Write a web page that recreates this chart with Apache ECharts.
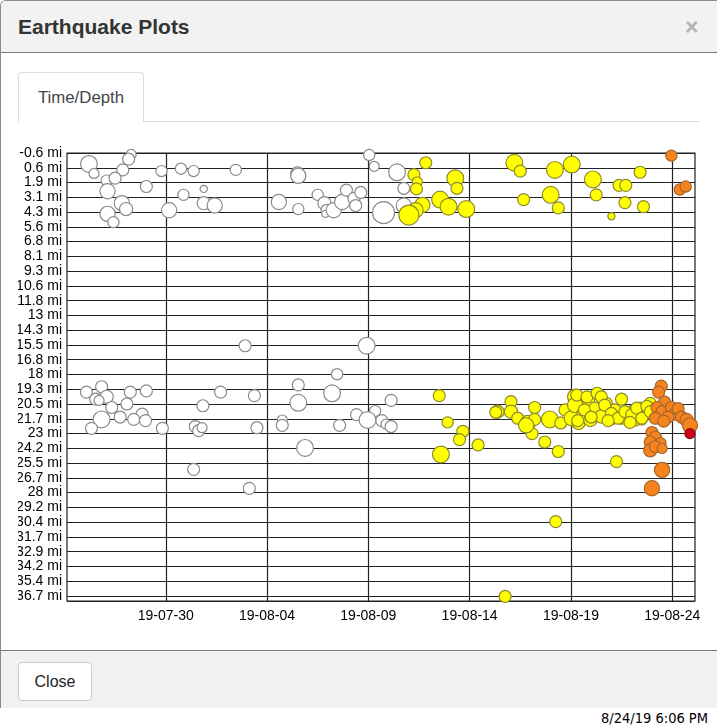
<!DOCTYPE html>
<html><head><meta charset="utf-8">
<script src="https://cdn.jsdelivr.net/npm/echarts@6/dist/echarts.min.js"></script>
<style>
html,body{margin:0;padding:0;background:#fff;width:717px;height:728px;overflow:hidden;font-family:"Liberation Sans",Arial,sans-serif;}
.modal{position:absolute;left:0;top:0;width:716px;height:707px;border:1px solid #8a8a8a;border-right:none;border-bottom:none;border-radius:6px 0 0 0;overflow:hidden;background:#fff;}
.hdr{position:absolute;left:0;top:0;right:0;height:51px;background:#f2f2f2;border-bottom:1px solid #777;}
.title{position:absolute;left:17px;top:14px;font-size:21px;font-weight:bold;color:#333;}
.closex{position:absolute;left:684px;top:13px;font-size:23px;font-weight:bold;color:#b3b3b3;}
.tab{position:absolute;left:17px;top:71px;width:124px;height:49px;border:1px solid #ddd;border-bottom:none;border-radius:4px 4px 0 0;background:#fff;text-align:center;line-height:50px;font-size:16.8px;color:#444;}
.tabline{position:absolute;left:17px;top:120px;width:682px;height:1px;background:#ddd;}
.tabcover{position:absolute;left:18px;top:120px;width:123px;height:1px;background:#fff;}
#chart{position:absolute;left:18px;top:130px;width:690px;height:510px;}
.ftr{position:absolute;left:0;top:649px;right:0;height:57px;background:#f1f1f1;border-top:1px solid #7a7a7a;}
.btn{position:absolute;left:17px;top:11px;width:72px;height:37px;border:1px solid #ccc;border-radius:4px;background:#fff;text-align:center;line-height:37px;font-size:16px;color:#222;}
.stamp{position:absolute;right:9px;top:710px;font-family:"DejaVu Sans Condensed","DejaVu Sans",sans-serif;font-size:14.5px;color:#000;}
</style>
</head>
<body>
<div class="modal">
  <div class="hdr"><div class="title">Earthquake Plots</div><div class="closex">×</div></div>
  <div class="tabline"></div>
  <div class="tab">Time/Depth</div>
  <div class="tabcover"></div>
  <div class="ftr"><div class="btn">Close</div></div>
</div>
<div id="chart"></div>
<div class="stamp">8/24/19 6:06 PM</div>
<script>
// ---- data (time 'MM-DD HH' in 2019, depth in miles, magnitude) ----
const YEAR = 2019;
const xTickDates = ['07-30 00','08-04 00','08-09 00','08-14 00','08-19 00','08-24 00'];
const xRange = ['07-25 03','08-25 03'];
const depthTopKm = -1;
const depthBottomKm = 59.68;
const depthStepKm = 2;

// older than two weeks (white)
const olderQuakes = [
['07-26 05',0.3,4.2],['07-26 11',1.1,2.5],['07-28 07',-0.5,2.5],['07-28 04',-0.1,3],
['07-27 21',0.8,3],['07-27 02',1.7,2.8],['07-27 12',1.5,3],['07-27 03',2.6,3.8],
['07-27 20',3.6,3.8],['07-28 01',4.1,3.3],['07-27 03',4.5,3.8],['07-27 10',5.2,2.8],
['07-29 01',2.2,3],['07-29 19',0.9,2.8],['07-30 18',0.7,2.8],['07-31 09',0.9,2.8],
['08-02 11',0.8,2.8],['07-30 21',2.9,2.8],['07-31 21',2.4,1.8],['07-31 21',3.6,3.3],
['08-01 10',3.8,3.8],['07-30 04',4.2,3.8],['08-05 12',1.1,3.3],['08-05 13',1.3,3.8],
['08-04 14',3.5,3.8],['08-05 13',4.1,2.8],['08-06 12',2.9,2.8],['08-06 20',3.6,3.3],
['08-06 23',4.2,3],['08-06 21',4.5,1.8],['08-07 07',4.2,3.8],['08-07 17',3.5,3.8],
['08-07 22',2.5,3],['08-08 07',3.2,3],['08-08 15',2.7,3],['08-08 09',3.8,3],
['08-09 01',-0.45,2.8],['08-09 07',0.5,2.5],['08-09 18',4.4,5.5],['08-10 10',1.0,4.2],
['08-10 18',2.35,3],['08-10 18',3.8,3.8],
['08-02 22',15.6,3],['08-08 22',15.6,4.2],['08-07 11',18.0,2.8],['08-05 13',18.9,3],
['08-07 05',19.6,4.2],['08-05 13',20.4,4.2],['07-26 02',19.5,3],['07-26 20',19.05,3],
['07-26 13',20.1,3],['07-27 02',19.9,3.3],['07-26 17',20.2,2.5],['07-27 08',20.8,3],
['07-28 06',19.5,3],['07-29 01',19.4,3],['07-28 02',20.5,3],['07-28 20',21.35,3],
['07-26 20',21.8,4.2],['07-27 18',21.6,3],['07-28 10',21.8,3],['07-29 00',21.9,3],
['07-26 08',22.55,3],['07-29 20',22.55,3],['07-31 20',20.65,3],['08-01 17',19.5,3],
['08-03 09',19.8,3],['07-31 11',22.4,3],['07-31 15',22.75,3],['07-31 19',22.5,2.5],
['08-03 12',22.5,3],['08-04 18',21.85,2.5],['08-04 18',22.3,3],['08-07 14',22.3,3],
['08-05 21',24.2,4.2],['07-31 09',26.0,3],['08-03 03',27.6,3],['08-08 10',21.4,3],
['08-09 08',21.1,2.8],['08-08 23',21.85,4.2],['08-09 16',21.9,3],['08-09 21',22.2,2.5],
['08-10 03',20.2,3],['08-10 03',22.4,3]
];

// past two weeks (yellow)
const recentQuakes = [
['08-11 20',0.2,3],['08-11 06',1.2,3],['08-11 10',1.8,2.5],['08-11 09',2.4,3],
['08-11 16',3.75,3.8],['08-11 08',4.2,3.8],['08-11 00',4.6,5],['08-12 13',3.3,4.2],
['08-12 23',3.9,4.2],['08-13 07',1.5,4.2],['08-13 09',2.35,3],['08-13 20',4.1,4.2],
['08-16 05',0.2,4.2],['08-16 12',0.9,3],['08-16 16',3.3,3],['08-18 00',2.9,4.2],
['08-18 09',4.0,3],['08-18 05',0.8,4.2],['08-19 01',0.35,4.2],['08-20 02',1.6,4.2],
['08-20 06',2.9,3],['08-21 09',2.1,3],['08-21 17',2.1,3],['08-21 16',3.55,3],
['08-22 10',1.0,3],['08-22 14',3.9,3],['08-21 00',4.7,1.8],
['08-12 12',19.8,3],['08-12 22',22.05,2.8],['08-13 16',22.8,3],['08-13 12',23.5,3],
['08-14 10',23.95,3],['08-12 14',24.75,4.2],['08-21 06',25.35,3],['08-18 06',30.4,3],
['08-15 18',36.7,3],
['08-15 09',21.15,3.3],['08-15 07',21.2,3],['08-16 01',20.3,3],['08-16 01',21.15,3.3],
['08-16 09',21.7,3],['08-16 21',22.1,3.8],['08-17 02',23.0,3],['08-17 05',20.8,3],
['08-17 05',21.8,3],['08-17 17',23.7,3],['08-17 23',21.8,4.2],['08-18 09',24.5,3],
['08-18 12',22.1,3],['08-18 17',21.0,3],['08-19 01',21.7,3.8],['08-19 05',19.9,3.8],
['08-19 05',20.6,3.8],['08-19 09',22.1,3.3],['08-19 15',21.3,3.3],['08-19 21',20.2,3],
['08-19 23',21.85,3.3],['08-20 04',20.85,3],['08-20 10',19.75,3],['08-20 12',21.55,3.3],
['08-20 18',20.45,3],['08-21 00',21.7,3.3],['08-21 04',21.0,3],['08-21 12',20.1,3],
['08-21 12',21.7,3],['08-22 00',21.15,3],['08-22 04',21.85,3],['08-22 10',20.85,3],
['08-22 12',21.85,2.5],['08-22 22',20.45,3],['08-22 18',21.3,2.5],
['08-16 19',22.3,3.8],['08-19 07',19.75,3],['08-19 19',19.9,3],['08-20 07',19.6,3],
['08-20 12',19.9,3],['08-19 16',21.0,3],['08-20 00',21.6,3],['08-20 16',20.6,3],
['08-21 00',21.3,3],['08-21 08',21.7,3],['08-21 16',21.15,3],['08-22 00',21.4,3],
['08-22 06',20.85,3],['08-22 12',21.7,3],['08-22 18',20.7,3],['08-22 22',21.15,3],
['08-19 08',21.9,3],['08-20 20',21.9,3],['08-21 22',22.05,3]
];

// past two days (orange)
const dayQuakes = [
['08-23 23',-0.4,2.8],['08-24 09',2.45,2.8],['08-24 16',2.2,2.8],
['08-23 11',19.0,3],['08-23 08',19.5,3],['08-23 15',20.35,3],['08-23 06',20.8,3],
['08-23 12',21.15,3],['08-23 23',20.8,3],['08-24 03',21.35,3],['08-23 19',21.6,3],
['08-24 07',20.9,3],['08-24 11',21.6,3],['08-24 17',21.85,3.3],['08-24 21',22.3,3.8],
['08-23 04',21.7,3],['08-23 14',21.95,3],
['08-23 00',22.9,3],['08-23 04',23.3,3],['08-23 10',23.8,2.8],['08-22 22',23.7,3],
['08-22 22',24.4,3.3],['08-23 04',24.1,3],['08-23 12',24.25,2.5],['08-23 12',26.05,3.8],
['08-23 00',27.6,3.8]
];

// past hour (red)
const hourQuakes = [
['08-24 21',23.0,2.5]
];

// ---- helpers ----
const MI_PER_KM = 0.621371;
function toTime(s){
  const m = s.match(/(\d+)-(\d+)\s+(\d+)(?::(\d+))?/);
  return Date.UTC(YEAR, +m[1]-1, +m[2], +m[3], m[4]? +m[4] : 0);
}
// axis unit: km below the top tick (top tick = depthTopKm)
function depthToAxis(mi){ return mi / MI_PER_KM - depthTopKm; }
function pad(n){ return (n<10?'0':'')+n; }
function build(arr){ return arr.map(d => [toTime(d[0]), depthToAxis(d[1]), d[2]]); }
const magToSize = v => v[2] * 4;

const chart = echarts.init(document.getElementById('chart'), null, {renderer:'canvas'});
const baseSeries = (name, data, fill, stroke) => ({
  name, type:'scatter', data: build(data), symbolSize: magToSize,
  itemStyle:{color:fill, borderColor:stroke, borderWidth:1.2, opacity:1},
  emphasis:{disabled:true}
});

chart.setOption({
  animation:false,
  grid:{left:49, top:23, width:628, height:448, containLabel:false, outerBoundsMode:'none',
        show:true, borderColor:'#222', borderWidth:1.2, backgroundColor:'rgba(0,0,0,0)'},
  xAxis:{
    type:'value',
    min: toTime(xRange[0]), max: toTime(xRange[1]),
    axisLine:{show:false},
    axisTick:{show:false, customValues: xTickDates.map(toTime)},
    axisLabel:{
      customValues: xTickDates.map(toTime),
      color:'#000', fontSize:14, fontFamily:'Liberation Sans, Arial, sans-serif', margin:8,
      formatter: v => { const d = new Date(v); return String(d.getUTCFullYear()).slice(2)+'-'+pad(d.getUTCMonth()+1)+'-'+pad(d.getUTCDate()); }
    },
    splitLine:{show:true, lineStyle:{color:'#222', width:1.2}}
  },
  yAxis:{
    type:'value', inverse:true,
    min:0, max: depthBottomKm - depthTopKm, interval: depthStepKm,
    axisLine:{show:false}, axisTick:{show:false},
    axisLabel:{
      color:'#000', fontSize:14, fontFamily:'Liberation Sans, Arial, sans-serif', margin:5,
      formatter: v => {
        const r = v / depthStepKm;
        if (Math.abs(r - Math.round(r)) > 1e-6) return '';
        const mi = (v + depthTopKm) * MI_PER_KM;
        let s = mi.toFixed(1);
        if (s.endsWith('.0')) s = s.slice(0,-2);
        return s + ' mi';
      }
    },
    splitLine:{show:true, lineStyle:{color:'#222', width:1.2}}
  },
  series:[
    baseSeries('older', olderQuakes, '#ffffff', '#8a8a8a'),
    baseSeries('recent', recentQuakes, '#ffff00', '#8f8b2a'),
    baseSeries('day', dayQuakes, '#f5841f', '#a8662a'),
    baseSeries('hour', hourQuakes, '#d2001a', '#8a1010')
  ]
});
</script>
</body></html>
